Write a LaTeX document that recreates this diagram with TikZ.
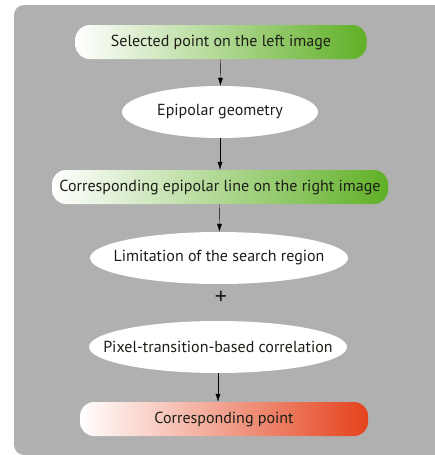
\documentclass[tikz,border=0pt]{standalone}
\usepackage{fontspec}
\setmainfont{PT Sans}
\usetikzlibrary{arrows.meta,shapes.geometric}
\tikzset{%%
  >={Latex[length=8pt,width=5pt]}
  }
\definecolor{myGray}{RGB}{176, 176, 176}
\definecolor{myGreen}{RGB}{96, 176, 38}
\definecolor{myRed}{RGB}{228, 66, 28}
\definecolor{myText}{RGB}{30, 30, 25}
\newcommand{\ovaltext}[1]{\makebox[0pt]{#1}}
\tikzset{%%
  pill/.style={rounded corners=14pt, minimum height=34pt, inner sep=0pt,
    text=myText, font=\fontsize{16}{18}\selectfont},
  oval/.style={ellipse, fill=white, inner sep=0pt, minimum height=52pt,
    text=myText, font=\fontsize{16}{18}\selectfont}
  }

\begin{document}
\begin{tikzpicture}[x=1pt,y=-1pt]
  \useasboundingbox (0,0) rectangle (435,455);
  \fill[myGray] (435,5) [rounded corners=10pt] -- (14,5) -- (14,455)
    [sharp corners] -- (435,455) -- cycle;
  \node[pill, minimum width=291pt, left color=white, right color=myGreen]
    (sel) at (221,42) {Selected point on the left image};
  \node[oval, minimum width=196pt] (epi) at (220,112) {\ovaltext{Epipolar geometry}};
  \node[pill, minimum width=336pt, left color=white, right color=myGreen]
    (line) at (220,187) {Corresponding epipolar line on the right image};
  \node[oval, minimum width=258pt] (lim) at (219,258) {\ovaltext{Limitation of the search region}};
  \node[font=\fontsize{24}{24}\selectfont, text=myText] (plus) at (221,298) {+};
  \node[oval, minimum width=258pt] (pix) at (218,347) {\ovaltext{Pixel-transition-based correlation}};
  \node[pill, minimum width=288pt, left color=white, right color=myRed]
    (pt) at (224,419) {Corresponding point};
  \draw[->] (sel) -- (epi);
  \draw[->] (epi) -- (line);
  \draw[->] (line) -- (lim);
  \draw[->] (pix.south) -- (pix.south |- pt.north);
\end{tikzpicture}
\end{document}
